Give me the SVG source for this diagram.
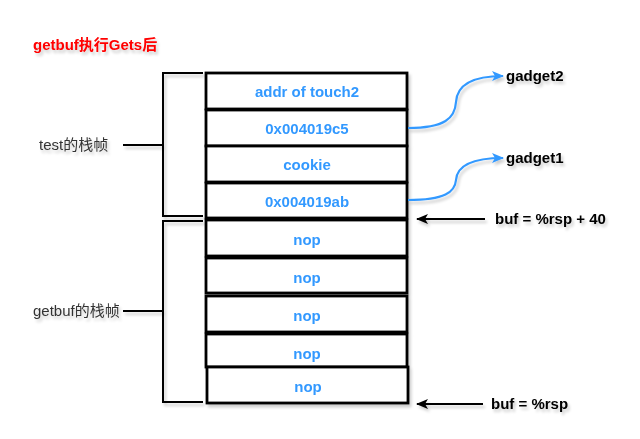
<svg xmlns="http://www.w3.org/2000/svg" width="640" height="439" viewBox="0 0 640 439">
<defs>
<filter id="sh" x="-10%" y="-10%" width="130%" height="140%">
<feGaussianBlur in="SourceAlpha" stdDeviation="1.5"/>
<feOffset dx="2" dy="3" result="b"/>
<feComponentTransfer><feFuncA type="linear" slope="0.2"/></feComponentTransfer>
<feMerge><feMergeNode/><feMergeNode in="SourceGraphic"/></feMerge>
</filter>
<marker id="ab" viewBox="0 0 12 10" refX="11" refY="5" markerWidth="12" markerHeight="10" orient="auto" markerUnits="userSpaceOnUse">
<path d="M0,0 L12,5 L0,10 L3,5 Z" fill="#3399FF"/>
</marker>
<marker id="ak" viewBox="0 0 12 10" refX="11" refY="5" markerWidth="12" markerHeight="10" orient="auto" markerUnits="userSpaceOnUse">
<path d="M0,0 L12,5 L0,10 L3,5 Z" fill="#000"/>
</marker>
</defs>
<style>
.cell{fill:#fff;stroke:#000;stroke-width:2.8}
.v{font-family:"Liberation Sans",Arial,sans-serif;font-size:15px;font-weight:bold;fill:#3399FF;text-anchor:middle}
.k{font-family:"Liberation Sans",Arial,sans-serif;font-size:15px;font-weight:bold;fill:#000}
.lbl{font-family:"Liberation Sans","Noto Sans CJK SC",sans-serif;font-size:15px;fill:#333}
.br{fill:none;stroke:#000;stroke-width:2}
.bc{fill:none;stroke:#3399FF;stroke-width:2.2}
.kc{fill:none;stroke:#000;stroke-width:2}
</style>
<rect width="640" height="439" fill="#fff"/>
<text id="title" x="33" y="50" font-family="'Liberation Sans','Noto Sans CJK SC',sans-serif" font-size="15" font-weight="bold" fill="#FF0000" filter="url(#sh)">getbuf执行Gets后</text>

<g id="stack" filter="url(#sh)">
<g id="r1"><rect class="cell" x="206" y="73" width="201" height="36"/><text class="v" x="307" y="97">addr of touch2</text></g>
<g id="r2"><rect class="cell" x="206" y="110" width="201" height="36"/><text class="v" x="307" y="134">0x004019c5</text></g>
<g id="r3"><rect class="cell" x="206" y="146" width="201" height="36"/><text class="v" x="307" y="170">cookie</text></g>
<g id="r4"><rect class="cell" x="206" y="183" width="201" height="35"/><text class="v" x="307" y="207">0x004019ab</text></g>
<g id="r5"><rect class="cell" x="206" y="220" width="201" height="36"/><text class="v" x="307" y="245">nop</text></g>
<g id="r6"><rect class="cell" x="206" y="258" width="201" height="35"/><text class="v" x="307" y="283">nop</text></g>
<g id="r7"><rect class="cell" x="206" y="296" width="201" height="36"/><text class="v" x="307" y="321">nop</text></g>
<g id="r8"><rect class="cell" x="206" y="334" width="201" height="33"/><text class="v" x="307" y="359">nop</text></g>
<g id="r9"><rect class="cell" x="207" y="367" width="201" height="36"/><text class="v" x="308" y="392">nop</text></g>
</g>

<g id="test-frame" filter="url(#sh)">
<path class="br" d="M203,73 H163 V216 H203"/>
<path class="br" d="M123,145 H163"/>
<text class="lbl" x="39" y="150">test的栈帧</text>
</g>
<g id="getbuf-frame" filter="url(#sh)">
<path class="br" d="M203,221 H163 V402 H203"/>
<path class="br" d="M123,311 H163"/>
<text class="lbl" x="33" y="316">getbuf的栈帧</text>
</g>

<g id="gadget2" filter="url(#sh)"><text class="k" x="506" y="81">gadget2</text></g>
<g id="gadget1" filter="url(#sh)"><text class="k" x="506" y="163">gadget1</text></g>
<g id="buf40" filter="url(#sh)"><text class="k" x="495" y="224">buf = %rsp + 40</text></g>
<g id="buf0" filter="url(#sh)"><text class="k" x="491" y="409">buf = %rsp</text></g>

<g id="connectors" filter="url(#sh)">
<path class="bc" d="M408,128 C445,128 455,118 456,102 C457,86 470,76 503,76" marker-end="url(#ab)"/>
<path class="bc" d="M408,200 C445,200 455,192 456,180 C457,167 470,158 503,158" marker-end="url(#ab)"/>
<path class="kc" d="M485,219 H417" marker-end="url(#ak)"/>
<path class="kc" d="M483,404 H417" marker-end="url(#ak)"/>
</g>
</svg>
